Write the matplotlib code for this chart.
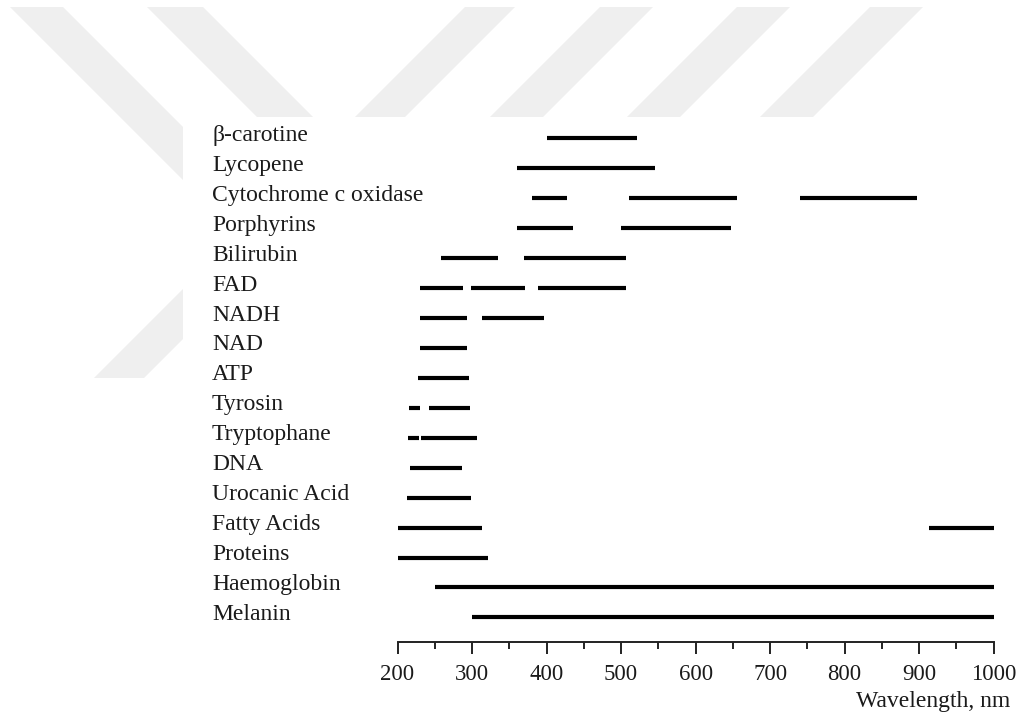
import matplotlib
matplotlib.use("Agg")
import matplotlib.pyplot as plt
from matplotlib.patches import Polygon, Rectangle
from matplotlib.transforms import Affine2D, blended_transform_factory
from matplotlib.ticker import MultipleLocator

plt.rcParams["font.family"] = ["Liberation Serif", "DejaVu Serif"]

# Absorption bands (nm) of each chromophore, top to bottom
compounds = [
    "β-carotine", "Lycopene", "Cytochrome c oxidase", "Porphyrins", "Bilirubin",
    "FAD", "NADH", "NAD", "ATP", "Tyrosin", "Tryptophane", "DNA",
    "Urocanic Acid", "Fatty Acids", "Proteins", "Haemoglobin", "Melanin",
]
beta_carotine = [(400, 522)]
lycopene = [(360, 546)]
cytochrome_c_oxidase = [(380, 428), (510, 656), (740, 897)]
porphyrins = [(360, 435), (500, 647)]
bilirubin = [(258, 335), (370, 506)]
fad = [(230, 288), (298, 371), (388, 506)]
nadh = [(230, 293), (313, 397)]
nad = [(230, 293)]
atp = [(228, 296)]
tyrosin = [(215, 230), (242, 297)]
tryptophane = [(214, 229), (231, 307)]
dna = [(217, 286)]
urocanic_acid = [(213, 298)]
fatty_acids = [(200, 313), (913, 1000)]
proteins = [(200, 321)]
haemoglobin = [(250, 1000)]
melanin = [(300, 1000)]

bands = [
    beta_carotine, lycopene, cytochrome_c_oxidase, porphyrins, bilirubin,
    fad, nadh, nad, atp, tyrosin, tryptophane, dna, urocanic_acid,
    fatty_acids, proteins, haemoglobin, melanin,
]

x_ticks = [200, 300, 400, 500, 600, 700, 800, 900, 1000]
x_label = "Wavelength, nm"

W, H = 1016, 720
fig = plt.figure(figsize=(W / 100, H / 100), dpi=100)
fig.patch.set_facecolor("white")

# pixel coordinates with the origin at the top-left corner
px = Affine2D().scale(1 / W, -1 / H).translate(0, 1) + fig.transFigure

# pale striped emblem behind the figure
y0, y1 = 7, 378
grey = "#efefef"
for d1, d2 in [(3, 56), (140, 196)]:
    verts = [(d1 + y0, y0), (d2 + y0, y0), (d2 + y1, y1), (d1 + y1, y1)]
    fig.patches.append(Polygon(verts, closed=True, transform=px,
                               facecolor=grey, edgecolor="none", zorder=-2))
for c1, c2 in [(472, 522), (607, 660), (744, 797), (877, 930)]:
    verts = [(c1 - y0, y0), (c2 - y0, y0), (c2 - y1, y1), (c1 - y1, y1)]
    fig.patches.append(Polygon(verts, closed=True, transform=px,
                               facecolor=grey, edgecolor="none", zorder=-2))
fig.patches.append(Rectangle((183, 117), W - 183, H - 117, transform=px,
                             facecolor="white", edgecolor="none", zorder=-1))

left_px, right_px, top_px, bottom_px = 397.5, 993.7, 123.3, 641.7
ax = fig.add_axes([left_px / W, 1 - bottom_px / H,
                   (right_px - left_px) / W, (bottom_px - top_px) / H])
ax.set_facecolor("none")

for row, segments in enumerate(bands):
    for start, end in segments:
        ax.plot([start, end], [row, row], color="black", lw=3.0,
                solid_capstyle="butt", clip_on=False)

ax.set_xlim(x_ticks[0], x_ticks[-1])
ax.set_ylim(len(compounds) - 1 + 0.81, -0.5)

for side in ("left", "right", "top"):
    ax.spines[side].set_visible(False)
ax.spines["bottom"].set_color("#222222")
ax.spines["bottom"].set_linewidth(1.4)

ax.set_yticks([])
ax.set_xticks(x_ticks)
ax.set_xticklabels([str(t) for t in x_ticks])
ax.xaxis.set_minor_locator(MultipleLocator(50))
ax.tick_params(axis="x", which="major", length=8.6, width=1.4, color="#222222",
               pad=7.5, labelsize=16.4, labelcolor="#1a1a1a")
ax.tick_params(axis="x", which="minor", length=4.7, width=1.4, color="#222222")

label_tf = blended_transform_factory(fig.transFigure, ax.transData)
for row, name in enumerate(compounds):
    ax.text(212 / W, row + 0.085, name, transform=label_tf, ha="left",
            va="baseline", fontsize=17, color="#1a1a1a")

fig.text(1010 / W, 1 - 707 / H, x_label, ha="right", va="baseline",
         fontsize=17, color="#1a1a1a")

fig.savefig("out.png", dpi=100)
